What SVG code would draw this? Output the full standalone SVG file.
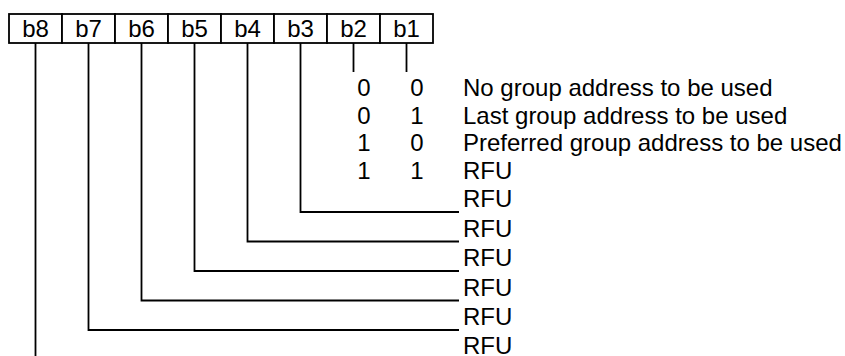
<svg xmlns="http://www.w3.org/2000/svg" width="845" height="356" viewBox="0 0 845 356">
<style>
.cell{fill:#fff;stroke:#000;stroke-width:1.8}
.t{font-family:"Liberation Sans",Arial,sans-serif;font-size:24px;fill:#000}
.m{text-anchor:middle}
.ln{fill:none;stroke:#000;stroke-width:1.8}
</style>
<rect width="845" height="356" fill="#fff"/>
<g id="register">
<g id="b8"><rect class="cell" x="9" y="14" width="53" height="29"/><text class="t m" x="35.5" y="37">b8</text></g>
<g id="b7"><rect class="cell" x="62" y="14" width="53" height="29"/><text class="t m" x="88.5" y="37">b7</text></g>
<g id="b6"><rect class="cell" x="115" y="14" width="53" height="29"/><text class="t m" x="141.5" y="37">b6</text></g>
<g id="b5"><rect class="cell" x="168" y="14" width="53" height="29"/><text class="t m" x="194.5" y="37">b5</text></g>
<g id="b4"><rect class="cell" x="221" y="14" width="53" height="29"/><text class="t m" x="247.5" y="37">b4</text></g>
<g id="b3"><rect class="cell" x="274" y="14" width="53" height="29"/><text class="t m" x="300.5" y="37">b3</text></g>
<g id="b2"><rect class="cell" x="327" y="14" width="53" height="29"/><text class="t m" x="353.5" y="37">b2</text></g>
<g id="b1"><rect class="cell" x="380" y="14" width="53" height="29"/><text class="t m" x="406.5" y="37">b1</text></g>
</g>
<g id="connectors">
<path class="ln" d="M353.5 43V72"/>
<path class="ln" d="M406.5 43V72"/>
<path class="ln" d="M300.5 43V212H459"/>
<path class="ln" d="M247.5 43V241.5H459"/>
<path class="ln" d="M194.5 43V271H459"/>
<path class="ln" d="M141.5 43V300.5H459"/>
<path class="ln" d="M88.5 43V330H459"/>
<path class="ln" d="M35.5 43V360H459"/>
</g>
<g id="values">
<text class="t m" x="364" y="96">0</text><text class="t m" x="417" y="96">0</text><text class="t" x="463" y="96">No group address to be used</text>
<text class="t m" x="364" y="123.5">0</text><text class="t m" x="417" y="123.5">1</text><text class="t" x="463" y="123.5">Last group address to be used</text>
<text class="t m" x="364" y="151">1</text><text class="t m" x="417" y="151">0</text><text class="t" x="463" y="151">Preferred group address to be used</text>
<text class="t m" x="364" y="178.5">1</text><text class="t m" x="417" y="178.5">1</text><text class="t" x="463" y="178.5">RFU</text>
<text class="t" x="463" y="207">RFU</text>
<text class="t" x="463" y="236.5">RFU</text>
<text class="t" x="463" y="266">RFU</text>
<text class="t" x="463" y="295.5">RFU</text>
<text class="t" x="463" y="325">RFU</text>
<text class="t" x="463" y="353.5">RFU</text>
</g>
</svg>
